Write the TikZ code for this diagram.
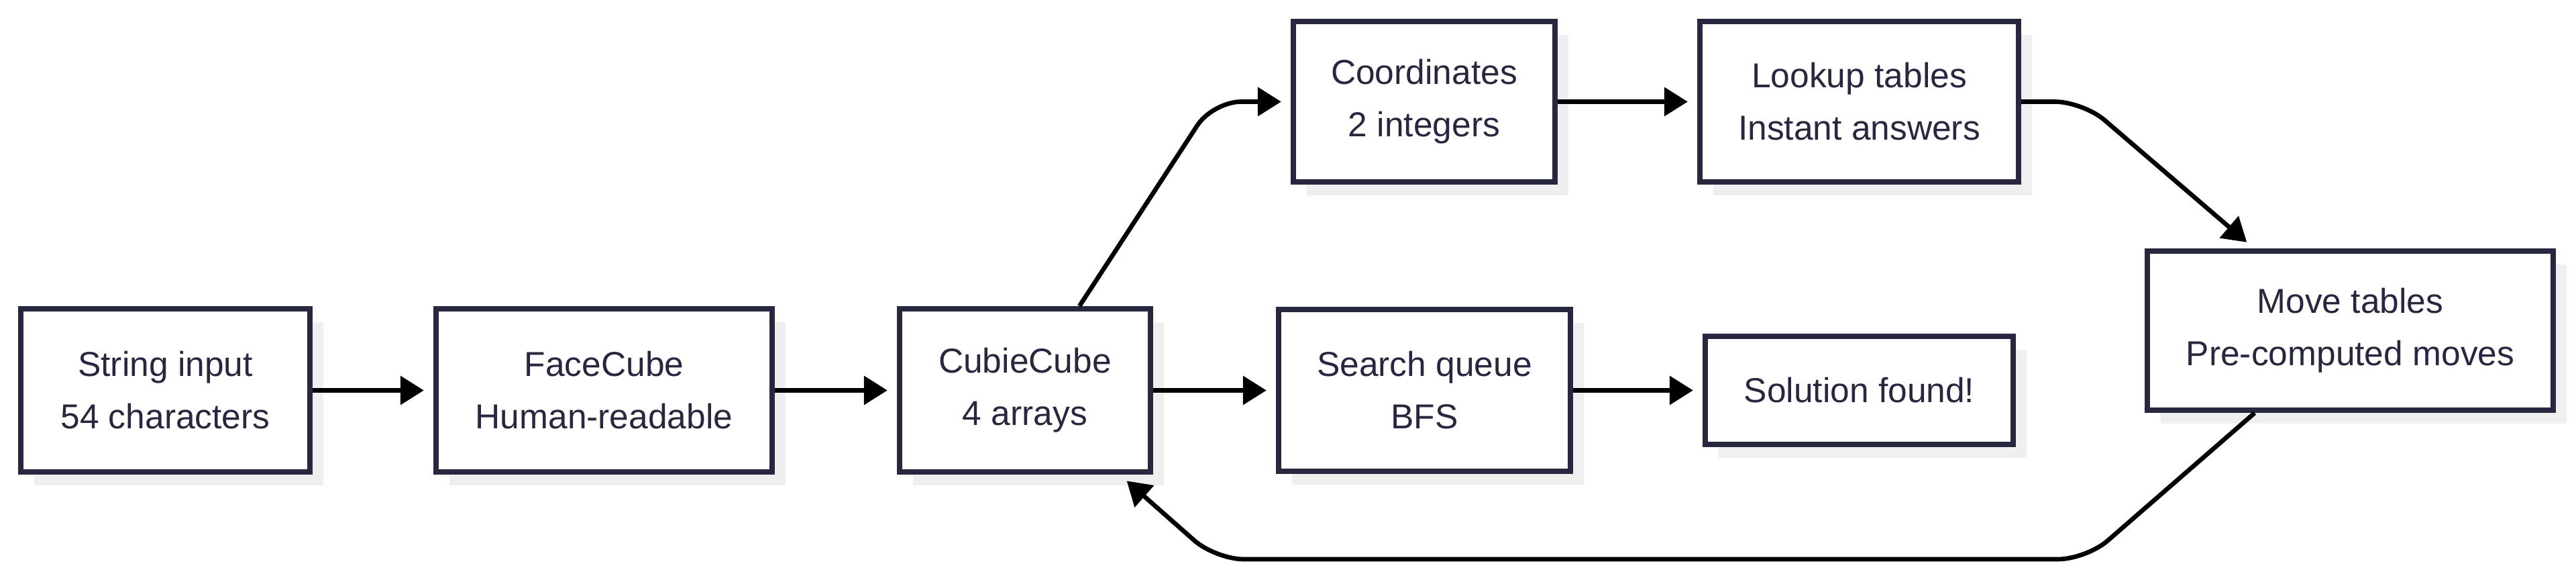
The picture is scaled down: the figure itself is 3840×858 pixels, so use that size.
\documentclass[tikz,border=0pt]{standalone}
\usepackage{fontspec}
\setmainfont{Liberation Sans}
\usetikzlibrary{arrows.meta,shadows,calc}
\definecolor{ink}{HTML}{27273F}
\definecolor{shade}{HTML}{EFEFEF}
\begin{document}
\begin{tikzpicture}[x=0.01cm,y=-0.01cm,
  box/.style={draw=ink, line width=2.28pt, fill=white, text=ink, align=center, inner sep=0pt,
    font={\fontsize{14.65pt}{22.2pt}\selectfont},
    drop shadow={shadow xshift=0.20cm, shadow yshift=-0.20cm, fill=shade, opacity=1}},
  arr/.style={draw=black, line width=1.9pt, -{Triangle[length=0.35cm,width=0.42cm]},
    shorten >=0.14cm, rounded corners=0.42cm}]
\useasboundingbox (0,0) rectangle (3840,858);
\node[box, minimum width=4.31cm, minimum height=2.43cm] (si) at (246.5,581.5) {String input\\54 characters};
\node[box, minimum width=5.01cm, minimum height=2.43cm] (fc) at (900.5,581.5) {FaceCube\\Human-readable};
\node[box, minimum width=3.74cm, minimum height=2.43cm] (cc) at (1528,581.5) {CubieCube\\4 arrays};
\node[box, minimum width=4.35cm, minimum height=2.40cm] (sq) at (2123.5,581.5) {Search queue\\BFS};
\node[box, minimum width=3.90cm, minimum height=2.38cm] (co) at (2123,151.5) {Coordinates\\2 integers};
\node[box, minimum width=4.75cm, minimum height=2.39cm] (lu) at (2771.5,151.5) {Lookup tables\\Instant answers};
\node[box, minimum width=4.59cm, minimum height=1.60cm] (sf) at (2771.5,581.5) {Solution found!};
\node[box, minimum width=6.05cm, minimum height=2.37cm] (mt) at (3503.5,492.5) {Move tables\\Pre-computed moves};
\coordinate (c1) at ($(co.west)+(-116,0)$);
\coordinate (c2) at ($(lu.east)+(92,0)$);
\coordinate (b1) at (3110,833);
\coordinate (b2) at (1812,833);
\draw[arr] (si.east) -- (fc.west);
\draw[arr] (fc.east) -- (cc.west);
\draw[arr] (cc.east) -- (sq.west);
\draw[arr] (sq.east) -- (sf.west);
\draw[arr] (co.east) -- (lu.west);
\draw[arr] ([xshift=0.81cm]cc.north) -- (c1) -- (co.west);
\draw[arr] (lu.east) -- (c2) -- ([xshift=-1.435cm]mt.north);
\draw[arr] ([xshift=-1.425cm]mt.south) -- (b1) -- (b2) -- ([xshift=1.41cm]cc.south);
\end{tikzpicture}
\end{document}
